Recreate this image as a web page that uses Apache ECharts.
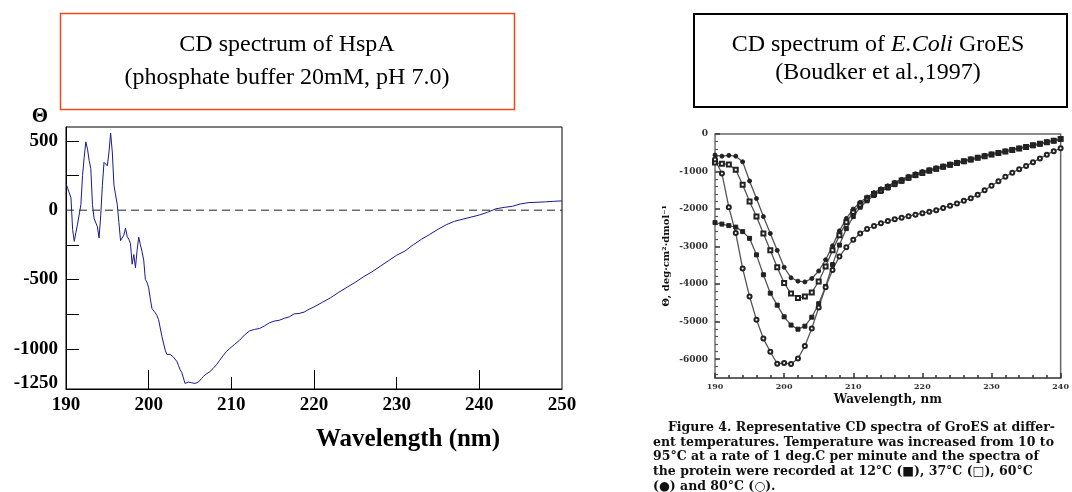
<!DOCTYPE html>
<html>
<head>
<meta charset="utf-8">
<script src="https://cdn.jsdelivr.net/npm/echarts/dist/echarts.min.js"></script>
<style>
  html, body { margin: 0; padding: 0; background: #fff; }
  #chart { width: 1072px; height: 492px; }
</style>
</head>
<body>
<div id="chart"></div>
<script>
// left panel: HspA spectrum (wavelength nm, theta)
const hspaWavelength = [
  190.0, 190.2, 190.4, 190.6, 190.8, 191.0, 191.2, 191.4, 191.6, 191.8,
  192.0, 192.2, 192.4, 192.6, 192.8, 193.0, 193.2, 193.4, 193.6, 193.8,
  194.0, 194.2, 194.4, 194.6, 194.8, 195.0, 195.2, 195.4, 195.6, 195.8,
  196.0, 196.2, 196.4, 196.6, 196.8, 197.0, 197.2, 197.4, 197.6, 197.8,
  198.0, 198.2, 198.4, 198.6, 198.8, 199.0, 199.2, 199.4, 199.6, 199.8,
  200.0, 200.2, 200.4, 200.6, 200.8, 201.0, 201.2, 201.4, 201.6, 201.8,
  202.0, 202.2, 202.4, 202.6, 202.8, 203.0, 203.2, 203.4, 203.6, 203.8,
  204.0, 204.2, 204.4, 204.6, 204.8, 205.0, 205.2, 205.4, 205.6, 205.8,
  206.0, 206.2, 206.4, 206.6, 206.8, 207.0, 207.4, 207.8, 208.2, 208.6,
  209.0, 209.4, 209.8, 210.4, 211.0, 211.6, 212.2, 212.8, 213.4, 214.0,
  214.6, 215.2, 215.8, 216.4, 217.0, 217.6, 218.2, 218.8, 219.4, 220.0,
  221, 222, 223, 224, 225, 226, 227, 228, 229, 230,
  231, 232, 233, 234, 235, 236, 237, 238, 239, 240,
  241, 242, 243, 244, 245, 246, 247, 248, 249, 250
];
const hspaTheta = [
  193, 157, 168, 90, -140, -225, -160, -100, -90, 40,
  250, 380, 493, 440, 360, 300, 40, -60, -50, -120,
  -200, -40, 180, 345, 345, 320, 420, 555, 420, 180,
  110, 40, -90, -220, -215, -180, -130, -190, -210, -240,
  -390, -320, -415, -290, -195, -250, -300, -360, -500, -520,
  -560, -640, -710, -700, -740, -760, -790, -850, -910, -920,
  -1010, -1040, -1030, -1040, -1030, -1060, -1070, -1090, -1120, -1150,
  -1170, -1210, -1250, -1245, -1240, -1238, -1245, -1240, -1250, -1255,
  -1240, -1235, -1215, -1200, -1190, -1180, -1165, -1142, -1115, -1082,
  -1050, -1020, -998, -968, -938, -900, -871, -860, -854, -835,
  -813, -800, -794, -780, -770, -748, -745, -735, -715, -698,
  -665, -632, -592, -556, -520, -480, -445, -405, -365, -325,
  -295, -250, -210, -175, -138, -105, -80, -65, -50, -35,
  -15, 10, 20, 28, 45, 55, 57, 60, 64, 67
];
const hspaYLabels = [500, 0, -500, -1000, -1250];
const hspaYTicks = [500, 250, -250, -500, -750, -1000];
const zeroLineX = [190, 250];
const zeroLineY = [0, 0];

// right panel: GroES spectra, one value per nm from 190 to 240
const groesWavelength = [
  190, 191, 192, 193, 194, 195, 196, 197, 198, 199,
  200, 201, 202, 203, 204, 205, 206, 207, 208, 209,
  210, 211, 212, 213, 214, 215, 216, 217, 218, 219,
  220, 221, 222, 223, 224, 225, 226, 227, 228, 229,
  230, 231, 232, 233, 234, 235, 236, 237, 238, 239, 240
];
const groes12 = [
  -2360, -2400, -2440, -2480, -2600, -2780, -3220, -3750, -4240, -4560,
  -4870, -5090, -5200, -5120, -4880, -4520, -4060, -3480, -2960, -2520,
  -2200, -1950, -1780, -1640, -1530, -1440, -1350, -1260, -1180, -1110,
  -1050, -990, -935, -880, -830, -780, -735, -690, -640, -595,
  -550, -510, -470, -430, -390, -350, -310, -270, -225, -185, -140
];
const groes37 = [
  -760, -790, -810, -950, -1350, -1800, -2200, -2650, -3100, -3550,
  -3970, -4250, -4370, -4330, -4220, -3930, -3530, -3100, -2700, -2350,
  -2080, -1880, -1720, -1600, -1500, -1410, -1320, -1240, -1160, -1090,
  -1030, -975, -925, -870, -820, -770, -725, -680, -635, -590,
  -545, -505, -465, -425, -385, -345, -300, -260, -220, -180, -130
];
const groes60 = [
  -560, -590, -570, -590, -740, -1250, -1720, -2200, -2650, -3100,
  -3550, -3830, -3920, -3940, -3850, -3650, -3350, -2980, -2580, -2250,
  -2000, -1820, -1680, -1560, -1460, -1380, -1290, -1210, -1130, -1060,
  -1000, -950, -900, -850, -800, -750, -710, -660, -620, -570,
  -530, -490, -450, -410, -370, -330, -290, -250, -210, -170, -120
];
const groes80 = [
  -680, -1050, -1950, -2640, -3580, -4330, -4950, -5450, -5800, -6120,
  -6100, -6130, -5980, -5650, -5180, -4620, -4080, -3620, -3260, -3020,
  -2820, -2650, -2530, -2450, -2380, -2320, -2270, -2230, -2190, -2150,
  -2110, -2070, -2030, -1970, -1910, -1850, -1780, -1710, -1620, -1500,
  -1380, -1260, -1140, -1030, -940, -850, -750, -650, -550, -460, -380
];
const groesYLabels = [0, -1000, -2000, -3000, -4000, -5000, -6000];

const captionLines = [
  'Figure 4. Representative CD spectra of GroES at differ-',
  'ent temperatures. Temperature was increased from 10 to',
  '95°C at a rate of 1 deg.C per minute and the spectra of',
  'the protein were recorded at 12°C (■), 37°C (□), 60°C',
  '(●) and 80°C (○).'
];

const pairs = (xs, ys) => xs.map((x, i) => [x, ys[i]]);
const plain = (v) => String(v);

const groesMinorTicks = [];
for (let v = -6400; v <= 0; v += 200) groesMinorTicks.push(v);

const serif = '"Liberation Serif", "Times New Roman", serif';
const scanFont = '"DejaVu Serif", serif';

const chart = echarts.init(document.getElementById('chart'));

const captionText = captionLines.map((line, i) => ({
  type: 'text',
  style: {
    text: line,
    x: i === 0 ? 668 : 653,
    y: 428 + i * 14.6,
    verticalAlign: 'middle',
    fontFamily: scanFont,
    fontWeight: 'bold',
    fontSize: 12.5,
    fill: '#111'
  }
}));

const groesSeries = (name, values, symbol) => ({
  name: name,
  type: 'line',
  xAxisIndex: 2,
  yAxisIndex: 1,
  data: pairs(groesWavelength, values),
  symbol: symbol,
  symbolSize: 4,
  lineStyle: { color: '#555', width: 1.3 },
  itemStyle: { color: '#222', borderColor: '#222', borderWidth: 1 },
  silent: true
});

chart.setOption({
  animation: false,
  backgroundColor: '#fff',
  grid: [
    { left: 66, top: 127, width: 496, height: 262, show: true, borderColor: '#000', borderWidth: 1 },
    { left: 715, top: 134, width: 352, height: 244, show: true, borderColor: '#666', borderWidth: 1.5 }
  ],
  xAxis: [
    {
      type: 'value', gridIndex: 0, position: 'bottom', min: 190, max: 250, interval: 10,
      axisLine: { onZero: false, lineStyle: { color: '#000', width: 1 } },
      axisTick: { inside: true, length: 19, customValues: [200, 220, 240], lineStyle: { color: '#000' } },
      axisLabel: { margin: 7, color: '#000', fontFamily: serif, fontWeight: 'bold', fontSize: 19 },
      splitLine: { show: false }
    },
    {
      type: 'value', gridIndex: 0, position: 'bottom', min: 190, max: 250, interval: 10,
      axisLine: { show: false, onZero: false },
      axisTick: { inside: true, length: 12, customValues: [210, 230], lineStyle: { color: '#000' } },
      axisLabel: { show: false },
      splitLine: { show: false }
    },
    {
      type: 'value', gridIndex: 1, position: 'bottom', min: 190, max: 240, interval: 10,
      name: 'Wavelength, nm', nameLocation: 'middle', nameGap: 16,
      nameTextStyle: { color: '#111', fontFamily: scanFont, fontWeight: 'bold', fontSize: 12 },
      axisLine: { onZero: false, lineStyle: { color: '#555', width: 1.5 } },
      axisTick: { inside: true, length: 5, lineStyle: { color: '#333', width: 1.5 } },
      axisLabel: { margin: 5, color: '#333', fontFamily: scanFont, fontWeight: 'bold', fontSize: 8 },
      splitLine: { show: false }
    },
    {
      type: 'value', gridIndex: 1, position: 'bottom', min: 190, max: 240, interval: 2,
      axisLine: { show: false, onZero: false },
      axisTick: { inside: true, length: 3, lineStyle: { color: '#333', width: 1.5 } },
      axisLabel: { show: false },
      splitLine: { show: false }
    }
  ],
  yAxis: [
    {
      type: 'value', gridIndex: 0, position: 'left', min: -1290, max: 600, interval: 250,
      axisLine: { show: true, onZero: false, lineStyle: { color: '#000', width: 1 } },
      axisTick: { show: true, inside: true, length: 13, customValues: hspaYTicks, lineStyle: { color: '#000' } },
      axisLabel: { margin: 8, color: '#000', fontFamily: serif, fontWeight: 'bold', fontSize: 19,
        customValues: hspaYLabels, formatter: plain },
      splitLine: { show: false }
    },
    {
      type: 'value', gridIndex: 1, position: 'left', min: -6500, max: 0, interval: 500,
      name: 'Θ, deg·cm²·dmol⁻¹', nameLocation: 'middle', nameGap: 44, nameRotate: 90,
      nameTextStyle: { color: '#111', fontFamily: scanFont, fontWeight: 'bold', fontSize: 10 },
      axisLine: { show: true, onZero: false, lineStyle: { color: '#999', width: 1.5 } },
      axisTick: { show: true, inside: true, length: 5, customValues: groesYLabels, lineStyle: { color: '#333', width: 1.5 } },
      axisLabel: { margin: 7, color: '#333', fontFamily: scanFont, fontWeight: 'bold', fontSize: 9,
        customValues: groesYLabels, formatter: plain },
      splitLine: { show: false }
    },
    {
      type: 'value', gridIndex: 1, position: 'left', min: -6500, max: 0, interval: 500,
      axisLine: { show: false, onZero: false },
      axisTick: { show: true, inside: true, length: 3, customValues: groesMinorTicks, lineStyle: { color: '#555', width: 1.2 } },
      axisLabel: { show: false },
      splitLine: { show: false }
    }
  ],
  series: [
    {
      name: 'zero',
      type: 'line',
      xAxisIndex: 0,
      yAxisIndex: 0,
      data: pairs(zeroLineX, zeroLineY),
      showSymbol: false,
      lineStyle: { color: '#222', width: 1, type: [8, 5] },
      silent: true
    },
    {
      name: 'HspA',
      type: 'line',
      xAxisIndex: 0,
      yAxisIndex: 0,
      data: pairs(hspaWavelength, hspaTheta),
      showSymbol: false,
      lineStyle: { color: '#1a1a8e', width: 1 },
      silent: true
    },
    groesSeries('12°C', groes12, 'rect'),
    groesSeries('37°C', groes37, 'emptyRect'),
    groesSeries('60°C', groes60, 'circle'),
    groesSeries('80°C', groes80, 'emptyCircle')
  ],
  graphic: [
    {
      type: 'rect',
      shape: { x: 60.5, y: 13.5, width: 454, height: 96 },
      style: { fill: 'none', stroke: '#f2471c', lineWidth: 1.5 }
    },
    {
      type: 'text',
      style: { text: 'CD spectrum of HspA', x: 287, y: 45, align: 'center', verticalAlign: 'middle',
        fontFamily: serif, fontSize: 24, fill: '#000' }
    },
    {
      type: 'text',
      style: { text: '(phosphate buffer 20mM, pH 7.0)', x: 287, y: 78, align: 'center', verticalAlign: 'middle',
        fontFamily: serif, fontSize: 24, fill: '#000' }
    },
    {
      type: 'text',
      style: { text: 'Θ', x: 40, y: 117, align: 'center', verticalAlign: 'middle',
        fontFamily: serif, fontWeight: 'bold', fontSize: 21, fill: '#000' }
    },
    {
      type: 'text',
      style: { text: 'Wavelength (nm)', x: 408, y: 440, align: 'center', verticalAlign: 'middle',
        fontFamily: serif, fontWeight: 'bold', fontSize: 25, fill: '#000' }
    },
    {
      type: 'rect',
      shape: { x: 694, y: 14, width: 373, height: 93 },
      style: { fill: 'none', stroke: '#000', lineWidth: 2 }
    },
    {
      type: 'text',
      style: {
        text: 'CD spectrum of {i|E.Coli} GroES', x: 878, y: 45, align: 'center', verticalAlign: 'middle',
        fontFamily: serif, fontSize: 24, fill: '#000',
        rich: { i: { fontFamily: serif, fontSize: 24, fontStyle: 'italic', fill: '#000' } }
      }
    },
    {
      type: 'text',
      style: { text: '(Boudker et al.,1997)', x: 878, y: 73, align: 'center', verticalAlign: 'middle',
        fontFamily: serif, fontSize: 24, fill: '#000' }
    }
  ].concat(captionText)
});

window.addEventListener('resize', () => chart.resize());
</script>
</body>
</html>
